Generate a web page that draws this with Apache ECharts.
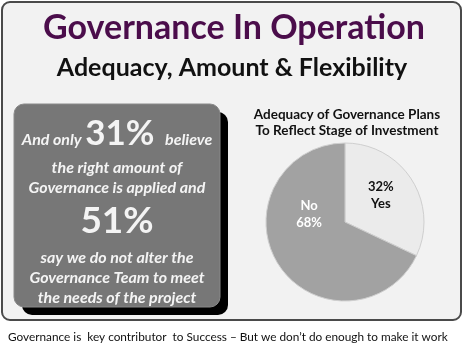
<!DOCTYPE html>
<html><head><meta charset="utf-8">
<script src="https://cdn.jsdelivr.net/npm/echarts@6/dist/echarts.min.js"></script>
<style>html,body{margin:0;padding:0;background:#fff}#c{width:465px;height:348px}</style>
</head><body><div id="c"></div>
<script>
var mainTitle = 'Governance In Operation';
var subTitle = 'Adequacy, Amount & Flexibility';
var pieTitle = 'Adequacy of Governance Plans\nTo Reflect Stage of Investment';
var categories = ['Yes', 'No'];
var values = [32, 68];
var statRightAmount = 31;
var statNotAlter = 51;
var footer = 'Governance is  key contributor  to Success \u2013 But we don\u2019t do enough to make it work';

var chart = echarts.init(document.getElementById('c'), null, {renderer: 'canvas'});
var F = 'Lato, "Open Sans", sans-serif';
var white = '#f4f4f4';
function line(t, y, size) {
  return {type: 'text', z: 10, style: {text: t, x: 117, y: y, align: 'center', verticalAlign: 'middle',
    font: 'italic bold ' + (size || 16) + 'px ' + F, fill: white}};
}
var option = {
  animation: false,
  backgroundColor: '#ffffff',
  graphic: [
    {type: 'rect', shape: {x: 2, y: 2, width: 459, height: 318, r: 8}, style: {fill: '#f2f2f2', stroke: '#4a4a4a', lineWidth: 2}, z: 0},
    {type: 'rect', shape: {x: 22, y: 112, width: 206, height: 203, r: 10}, style: {fill: '#000000'}, z: 1},
    {type: 'rect', shape: {x: 14, y: 104, width: 206, height: 203, r: 10}, style: {fill: '#777777', stroke: '#8a8a8a', lineWidth: 1}, z: 2},
    {type: 'text', z: 10, style: {text: mainTitle, x: 234, y: 28, align: 'center', verticalAlign: 'middle', font: 'bold 34px ' + F, fill: '#4b0d4b'}},
    {type: 'text', z: 10, style: {text: subTitle, x: 232, y: 68, align: 'center', verticalAlign: 'middle', font: 'bold 25px ' + F, fill: '#111111'}},
    {type: 'text', z: 10, style: {
      text: '{a|And only }{b|' + statRightAmount + '%}{a|   believe}', x: 117, y: 134, align: 'center', verticalAlign: 'middle',
      rich: {a: {font: 'italic bold 16px ' + F, fill: white, padding: [12, 0, 0, 0]}, b: {font: 'bold 35px ' + F, fill: white}}}},
    line('the right amount of', 168),
    line('Governance is applied and', 188),
    {type: 'text', z: 10, style: {text: statNotAlter + '%', x: 117, y: 221, align: 'center', verticalAlign: 'middle', font: 'bold 37px ' + F, fill: white}},
    line('say we do not alter the', 258),
    line('Governance Team to meet', 278),
    line('the needs of the project', 298),
    {type: 'text', z: 10, style: {text: footer, x: 8, y: 337, align: 'left', verticalAlign: 'middle', font: '11.8px ' + F, fill: '#111111'}}
  ],
  title: {text: pieTitle, left: 342, top: 102, textAlign: 'center',
    textStyle: {fontFamily: F, fontWeight: 'bold', fontSize: 13.5, color: '#111', lineHeight: 16}},
  series: [{
    type: 'pie', center: [345, 222], radius: 79, startAngle: 90, clockwise: true, z: 5,
    data: categories.map(function (c, i) { return {name: c, value: values[i]}; }),
    itemStyle: {borderColor: '#cfcfcf', borderWidth: 1},
    color: ['#ebebeb', '#a2a2a2'],
    label: {show: true, position: 'inside', fontFamily: F, fontWeight: 'bold', fontSize: 13, lineHeight: 17,
      formatter: function (p) { return p.dataIndex === 0 ? p.value + '%\n' + p.name : p.name + '\n' + p.value + '%'; },
      color: '#111'},
    labelLayout: function (p) { return p.dataIndex === 1 ? {dy: -30} : {dy: -4}; },
    emphasis: {disabled: true}
  }]
};
option.series[0].data[1].label = {color: '#ffffff'};
chart.setOption(option);
</script></body></html>
